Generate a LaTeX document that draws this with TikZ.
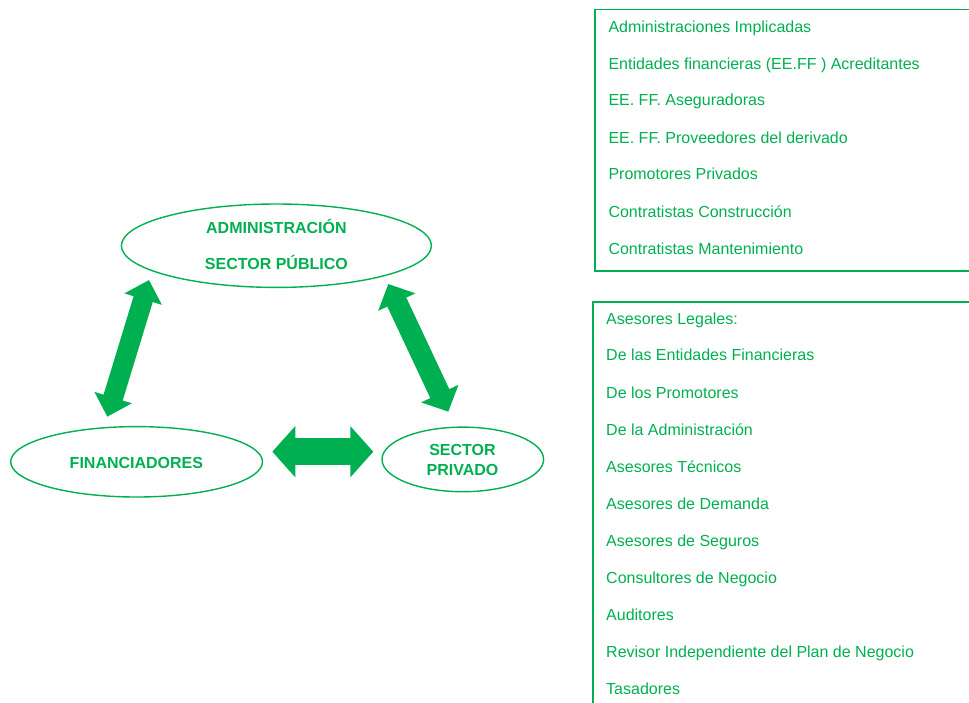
\documentclass[tikz,border=0pt]{standalone}
\usepackage{fontspec}
\setmainfont{Liberation Sans}
\usetikzlibrary{arrows.meta,shapes.geometric}
\definecolor{grn}{HTML}{00B050}
\begin{document}
\begin{tikzpicture}[x=1pt,y=-1pt,
  oval/.style={ellipse,draw=grn,line width=1.4pt,inner sep=0pt},
  lbl/.style={inner sep=0pt,anchor=base,text=grn,font=\fontsize{16}{19.3}\selectfont\bfseries},
  item/.style={inner sep=0pt,anchor=base west,text=grn,font=\fontsize{16}{19}\selectfont},
  boxline/.style={draw=grn,line width=1.6pt},
  bigarrow/.style={draw=grn,line width=20pt},
]
\useasboundingbox (0,0) rectangle (969,702);
% ellipses
\node[oval,minimum width=310pt,minimum height=83.4pt] (adm) at (276.4,245.7) {};
\node[oval,minimum width=251.8pt,minimum height=70.4pt] (fin) at (136.6,461.8) {};
\node[oval,minimum width=161.6pt,minimum height=64.6pt] (priv) at (462.8,459.4) {};
\node[lbl] (admA) at (276.4,233.0) {ADMINISTRACIÓN};
\node[lbl] (admB) at (276.4,269.7) {SECTOR PÚBLICO};
\node[lbl] (finA) at (136.4,468.0) {FINANCIADORES};
\node[lbl] (privA) at (462.5,455.7) {SECTOR};
\node[lbl] (privB) at (462.5,475.0) {PRIVADO};
% arrow end points
\coordinate (la1) at (149,280);
\coordinate (la2) at (107.3,416.7);
\coordinate (ra1) at (388.3,284);
\coordinate (ra2) at (448.3,411.7);
\coordinate (ha1) at (272.3,451.7);
\coordinate (ha2) at (373.3,451.7);
\draw[bigarrow,{Triangle[width=38pt,length=20pt]}-{Triangle[width=38pt,length=20pt]}] (la1) -- (la2);
\draw[bigarrow,line width=21pt,{Triangle[width=40pt,length=20pt]}-{Triangle[width=40pt,length=20pt]}] (ra1) -- (ra2);
\draw[bigarrow,line width=26.7pt,{Triangle[width=50pt,length=23pt]}-{Triangle[width=50pt,length=23pt]}] (ha1) -- (ha2);
% right boxes
\draw[boxline] (972,9.3) -- (595,9.3) -- (595,270.7) -- (972,270.7);
\draw[boxline] (972,301.7) -- (592.7,301.7) -- (592.7,705);
\node[item] (t1) at (608.3,32.4) {Administraciones Implicadas};
\node[item] (t2) at (608.3,69.0) {Entidades financieras (EE.FF ) Acreditantes};
\node[item] (t3) at (608.3,105.7) {EE. FF. Aseguradoras};
\node[item] (t4) at (608.3,143.0) {EE. FF. Proveedores del derivado};
\node[item] (t5) at (608.3,179.7) {Promotores Privados};
\node[item] (t6) at (608.3,217.4) {Contratistas Construcción};
\node[item] (t7) at (608.3,254.0) {Contratistas Mantenimiento};
\node[item] (s1) at (606,324.0) {Asesores Legales:};
\node[item] (s2) at (606,360.7) {De las Entidades Financieras};
\node[item] (s3) at (606,398.0) {De los Promotores};
\node[item] (s4) at (606,435.0) {De la Administración};
\node[item] (s5) at (606,472.4) {Asesores Técnicos};
\node[item] (s6) at (606,509.0) {Asesores de Demanda};
\node[item] (s7) at (606,546.4) {Asesores de Seguros};
\node[item] (s8) at (606,583.0) {Consultores de Negocio};
\node[item] (s9) at (606,620.7) {Auditores};
\node[item] (s10) at (606,657.4) {Revisor Independiente del Plan de Negocio};
\node[item] (s11) at (606,694.7) {Tasadores};
\end{tikzpicture}
\end{document}
